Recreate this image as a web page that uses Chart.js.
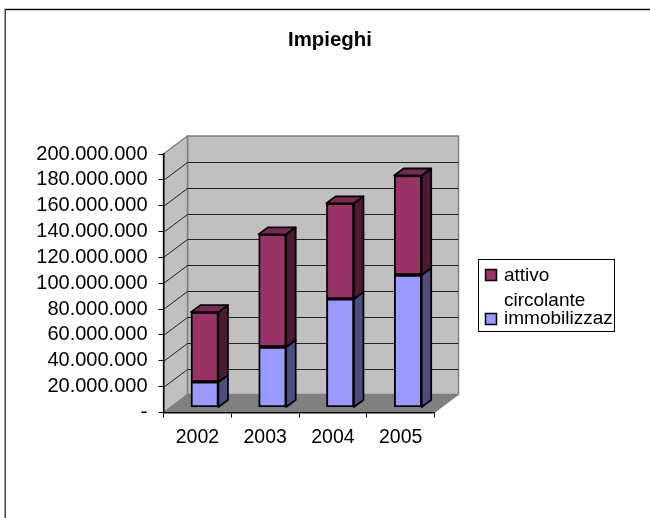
<!DOCTYPE html>
<html><head><meta charset="utf-8">
<style>html,body{margin:0;padding:0;background:#fff}canvas{display:block}</style>
<script src="https://cdn.jsdelivr.net/npm/chart.js@4"></script>
</head><body>
<div style="width:650px;height:518px"><canvas id="c" width="650" height="518"></canvas></div>
<script>
const categories = ["2002","2003","2004","2005"];
const immobilizzaz = [19800000,46800000,84000000,102500000];
const attivoCircolante = [54000000,87200000,74000000,77000000];
const chartTitle = "Impieghi";
const seriesNames = ["immobilizzaz","attivo circolante"];
const legendLines = [["attivo","circolante"],["immobilizzaz"]];
const yMax = 200000000, yStep = 20000000;

const FONT = '"Liberation Sans", Arial, sans-serif';
const WALL = {dx:24, dy:-18};
const BAR = {dx:7.3, dy:-5, depthX:9.5, depthY:-7};
const immobColor='#9999ff', attivoColor='#993366';

function poly(ctx, pts, fill, stroke, lw){
  ctx.beginPath();
  pts.forEach((p,i)=> i?ctx.lineTo(p[0],p[1]):ctx.moveTo(p[0],p[1]));
  ctx.closePath();
  if(fill){ctx.fillStyle=fill;ctx.fill();}
  if(stroke){ctx.strokeStyle=stroke;ctx.lineWidth=lw||1;ctx.stroke();}
}

const scene = {
  id:'scene',
  beforeDraw(chart){
    const {ctx,chartArea:a,scales:{y}} = chart;
    ctx.save();
    ctx.fillStyle='#fff';ctx.fillRect(0,0,chart.width,chart.height);
    ctx.fillStyle='#c8c8c8';ctx.fillRect(4,8,646,1);
    ctx.fillStyle='#000';ctx.fillRect(5,9,645,1.2);
    ctx.fillStyle='#444';ctx.fillRect(4.5,9,1.5,509);
    const {dx,dy}=WALL, l=a.left,r=a.right,t=a.top,b=a.bottom;
    poly(ctx,[[l+dx,t+dy],[r+dx,t+dy],[r+dx,b+dy],[l+dx,b+dy]],'#c0c0c0','#808080',1.5);
    poly(ctx,[[l,t],[l+dx,t+dy],[l+dx,b+dy],[l,b]],'#c0c0c0','#808080',1.5);
    poly(ctx,[[l,b],[l+dx,b+dy],[r+dx,b+dy],[r,b]],'#808080','#808080',1);
    ctx.strokeStyle='#222';ctx.lineWidth=1;
    y.ticks.forEach(tk=>{
      if(tk.value===0||tk.value===yMax) return;
      const py=Math.round(y.getPixelForValue(tk.value))+0.5;
      ctx.beginPath();ctx.moveTo(l,py);ctx.lineTo(l+dx,py+dy);ctx.lineTo(r+dx,py+dy);ctx.stroke();
    });
    ctx.restore();
  },
  beforeDatasetsDraw(chart){
    chart.ctx.save();
    chart.ctx.translate(BAR.dx,BAR.dy);
  },
  afterDatasetsDraw(chart){
    const ctx=chart.ctx, dX=BAR.depthX, dY=BAR.depthY;
    const sides=['#4d4d80','#4d1933'];
    const n=chart.data.datasets.length;
    ctx.lineJoin='round';
    for(let d=0;d<n;d++){
      chart.getDatasetMeta(d).data.forEach(el=>{
        const L=el.x-el.width/2,R=el.x+el.width/2,T=el.y,B=el.base;
        poly(ctx,[[R,T],[R+dX,T+dY],[R+dX,B+dY],[R,B]],sides[d],'#000',1.8);
        if(d===n-1) poly(ctx,[[L,T],[L+dX,T+dY],[R+dX,T+dY],[R,T]],'#7a2952','#000',1.8);
      });
    }
    ctx.restore();
  },
  afterDraw(chart){
    const ctx=chart.ctx;
    ctx.save();
    ctx.strokeStyle='#000';ctx.lineWidth=1;
    ctx.strokeRect(478.5,259.5,136,72);
    poly(ctx,[[485.5,269.5],[496.5,269.5],[496.5,280.5],[485.5,280.5]],attivoColor,'#000',1.5);
    poly(ctx,[[485.5,313.5],[496.5,313.5],[496.5,324.5],[485.5,324.5]],immobColor,'#000',1.5);
    ctx.fillStyle='#000';
    ctx.textBaseline='alphabetic';
    ctx.textAlign='left';
    ctx.font='bold 20.4px '+FONT;
    ctx.fillText(chartTitle,288,46);
    ctx.font='19px '+FONT;
    ctx.fillText(legendLines[0][0],504,281);
    ctx.fillText(legendLines[0][1],504,306);
    ctx.fillText(legendLines[1][0],504,324);
    ctx.restore();
  }
};

new Chart(document.getElementById('c'),{
  type:'bar',
  data:{labels:categories,datasets:[
    {label:seriesNames[0],data:immobilizzaz,backgroundColor:immobColor,borderColor:'#000',borderWidth:2,borderSkipped:false,barThickness:27.5,clip:false},
    {label:seriesNames[1],data:attivoCircolante,backgroundColor:attivoColor,borderColor:'#000',borderWidth:2,borderSkipped:false,barThickness:27.5,clip:false}
  ]},
  plugins:[scene],
  options:{
    responsive:false,animation:false,
    layout:{padding:{left:0,top:154,right:215.5,bottom:0}},
    plugins:{legend:{display:false},title:{display:false},tooltip:{enabled:false}},
    scales:{
      x:{stacked:true,
        afterFit(s){s.height=105.5;},
        grid:{offset:true,drawOnChartArea:false,color:'#000',tickLength:5,lineWidth:1},
        border:{color:'#000',width:1.5},
        ticks:{color:'#000',font:{family:FONT,size:19.5},padding:8,maxRotation:0}},
      y:{stacked:true,min:0,max:yMax,
        afterFit(s){s.width=163.5;},
        grid:{drawOnChartArea:false,color:'#000',tickLength:5,lineWidth:1},
        border:{color:'#000',width:1.5},
        ticks:{stepSize:yStep,color:'#000',font:{family:FONT,size:20},padding:11,autoSkip:false,
          callback:v=>v===0?'-':String(v).replace(/\B(?=(\d{3})+$)/g,'.')}}
    }
  }
});
</script>
</body></html>
